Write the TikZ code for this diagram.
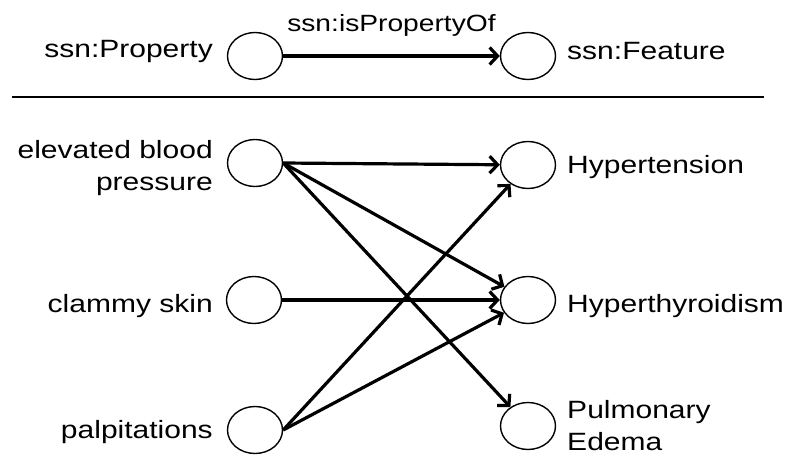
\documentclass[tikz,border=0pt]{standalone}
\usepackage{fontspec}
\setmainfont{Liberation Sans}
\usetikzlibrary{shapes.geometric,arrows.meta}
\tikzset{
	res/.style={draw,ellipse,minimum width=55pt,minimum height=47pt,inner sep=0pt,line width=1.4pt},
	lbl/.style={inner sep=0pt,xscale=1.2,font=\fontsize{25}{32}\selectfont},
	rel/.style={line width=3.2pt,-{Straight Barb[length=8pt,width=17pt]}}
}
\begin{document}
\begin{tikzpicture}[x=1pt,y=-1pt]
	\useasboundingbox (0,0) rectangle (788,455);
	% ssn pattern
	\node[res] (prop) at (255,56) {};
	\node[res] (feat) at (528,56) {};
	\node[lbl,anchor=base east] (tprop) at (213,57) {ssn:Property};
	\node[lbl,anchor=base west] (tfeat) at (567,59) {ssn:Feature};
	\draw[rel] (prop.east) -- (feat) node[midway,above=18pt,lbl,font=\fontsize{23.5}{28}\selectfont] (tisof) {ssn:isPropertyOf};
	\draw[line width=2pt] (12,97) -- (764,97);
	% symptoms and diseases
	\node[res] (ebp) at (255,163) {};
	\node[res] (clam) at (254,300) {};
	\node[res] (palp) at (255,430) {};
	\node[res] (htn) at (528,165) {};
	\node[res] (hthy) at (528,300) {};
	\node[res] (pe) at (528,426) {};
	\node[lbl,anchor=base east,align=right] (tebp) at (213,190) {elevated blood\\pressure};
	\node[lbl,anchor=base east] (tclam) at (213,312) {clammy skin};
	\node[lbl,anchor=base east] (tpalp) at (213,438) {palpitations};
	\node[lbl,anchor=base west] (thtn) at (567,173) {Hypertension};
	\node[lbl,anchor=base west] (ththy) at (567,312) {Hyperthyroidism};
	\node[lbl,anchor=base west,align=left] (tpe) at (567,450) {Pulmonary\\Edema};
	\foreach \d in {htn,hthy,pe} \draw[rel] (ebp.east) -- (\d);
	\draw[rel] (clam.east) -- (hthy);
	\foreach \d in {htn,hthy} \draw[rel] (palp.east) -- (\d);
\end{tikzpicture}
\end{document}
